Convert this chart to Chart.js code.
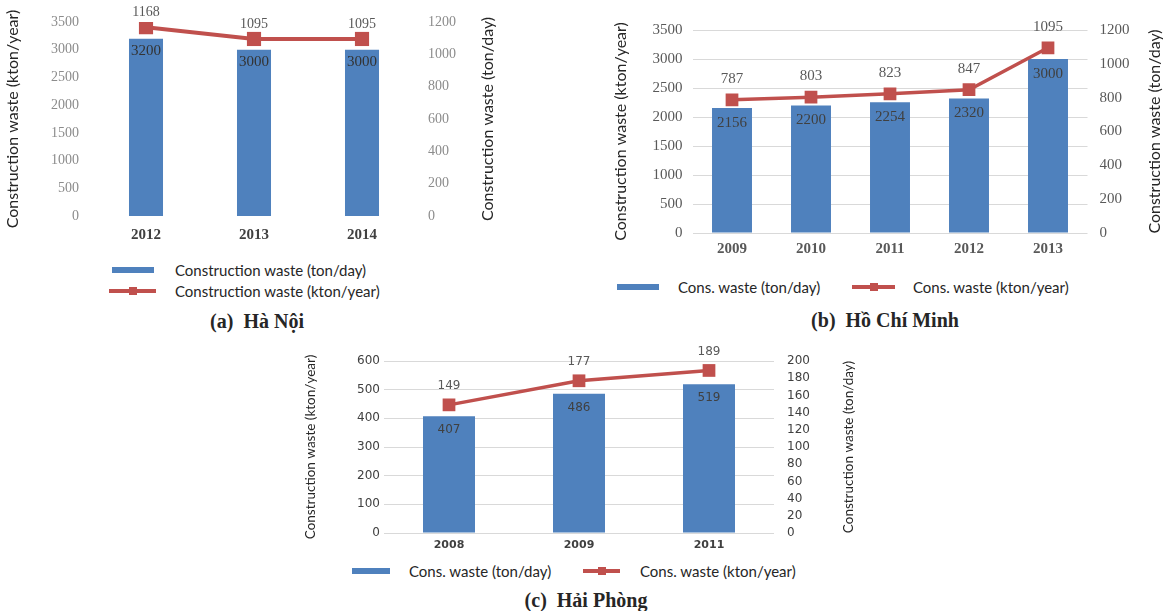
<!DOCTYPE html>
<html>
<head>
<meta charset="utf-8">
<script src="https://cdn.jsdelivr.net/npm/chart.js@4.4.1/dist/chart.umd.min.js"></script>
<style>
  body { margin: 0; background: #fff; }
  #page { position: relative; width: 1165px; height: 611px; overflow: hidden; font-family: Lato, sans-serif; }
  canvas { position: absolute; }
  .leg { position: absolute; font-size: 15px; color: #262626; white-space: nowrap; line-height: 1; transform: translateY(-50%); }
  .sw { position: absolute; }
  .cap { position: absolute; font-family: "Liberation Serif", serif; font-weight: bold; font-size: 20px; color: #262626;
         white-space: nowrap; transform: translate(-50%, -50%); }
</style>
</head>
<body>
<div id="page">
  <canvas id="cA"></canvas>
  <canvas id="cB"></canvas>
  <canvas id="cC"></canvas>
</div>
<script>
// (a) Hà Nội
const hnYears = ['2012', '2013', '2014'];
const hnTonDay = [3200, 3000, 3000];
const hnKtonYear = [1168, 1095, 1095];
const hnLegend = ['Construction waste (ton/day)', 'Construction waste (kton/year)'];

// (b) Hồ Chí Minh
const hcmYears = ['2009', '2010', '2011', '2012', '2013'];
const hcmTonDay = [2156, 2200, 2254, 2320, 3000];
const hcmKtonYear = [787, 803, 823, 847, 1095];

// (c) Hải Phòng
const hpYears = ['2008', '2009', '2011'];
const hpTonDay = [407, 486, 519];
const hpKtonYear = [149, 177, 189];

const shortLegend = ['Cons. waste (ton/day)', 'Cons. waste (kton/year)'];
const leftTitle = 'Construction waste (kton/year)';
const rightTitle = 'Construction waste (ton/day)';

const BLUE = '#4F81BD';
const RED = '#C0504D';

// value labels: inside the top of bars, above the line points
const valueLabels = {
  id: 'valueLabels',
  afterDatasetsDraw(chart, args, o) {
    const ctx = chart.ctx;
    chart.data.datasets.forEach((ds, i) => {
      const meta = chart.getDatasetMeta(i);
      const isLine = ds.type === 'line';
      meta.data.forEach((el, j) => {
        ctx.save();
        ctx.font = isLine ? o.lineFont : o.barFont;
        ctx.fillStyle = isLine ? o.lineColor : o.barColor;
        ctx.textAlign = 'center';
        ctx.textBaseline = 'middle';
        const y = isLine ? el.y - o.lineOff : el.y + o.barOff;
        ctx.fillText(ds.data[j], el.x, y);
        ctx.restore();
      });
    });
  }
};

// right axis title, reading bottom to top like the left one
const sideTitle = {
  id: 'sideTitle',
  afterDraw(chart, args, o) {
    const ctx = chart.ctx;
    const a = chart.chartArea;
    ctx.save();
    ctx.translate(chart.width - o.fromRight, (a.top + a.bottom) / 2);
    ctx.rotate(-Math.PI / 2);
    ctx.font = o.font;
    ctx.fillStyle = o.color;
    ctx.textAlign = 'center';
    ctx.textBaseline = 'middle';
    ctx.fillText(o.text, 0, 0);
    ctx.restore();
  }
};

function build(p) {
  const cv = document.getElementById(p.id);
  cv.width = p.width;
  cv.height = p.height;
  cv.style.left = p.left + 'px';
  cv.style.top = p.top + 'px';

  const chart = new Chart(cv, {
    type: 'bar',
    data: {
      labels: p.labels,
      datasets: [
        {
          type: 'bar', label: p.legend[0], data: p.bars, yAxisID: 'y',
          backgroundColor: BLUE, barPercentage: p.barPct, categoryPercentage: 1, order: 1
        },
        {
          type: 'line', label: p.legend[1], data: p.line, yAxisID: 'y1',
          borderColor: RED, backgroundColor: RED, borderWidth: p.lineW, tension: 0,
          pointStyle: 'rect', pointRadius: p.ptR, pointBorderWidth: 0,
          pointBackgroundColor: RED, order: 0
        }
      ]
    },
    options: {
      responsive: false,
      animation: false,
      devicePixelRatio: 1,
      layout: { padding: { top: p.padTop, left: 0, right: 0, bottom: 0 } },
      plugins: {
        legend: { display: false },
        tooltip: { enabled: false },
        valueLabels: p.values,
        sideTitle: { text: rightTitle, fromRight: p.rtFromRight, font: p.titleFont, color: '#262626' }
      },
      scales: {
        x: {
          grid: { display: false, drawTicks: false },
          border: { display: false },
          ticks: { padding: p.xPad, color: p.xColor, font: p.xFont },
          afterFit: s => { s.height = p.xH; }
        },
        y: {
          position: 'left', min: 0, max: p.lmax,
          ticks: { stepSize: p.lstep, padding: p.lPad, color: p.tickColor, font: p.tickFont,
                   autoSkip: false, callback: v => String(v) },
          grid: { display: p.grid, color: '#d9d9d9', drawTicks: false },
          border: { display: false },
          title: {
            display: true, text: leftTitle, color: '#262626',
            font: { family: 'Lato', size: p.titleSize }, padding: { top: p.ltPad, bottom: 0 }
          },
          afterFit: s => { s.width = p.lw; }
        },
        y1: {
          position: 'right', min: 0, max: p.rmax,
          ticks: { stepSize: p.rstep, padding: p.rPad, color: p.tickColor, font: p.tickFont,
                   autoSkip: false, callback: v => String(v) },
          grid: { display: false, drawTicks: false },
          border: { display: false },
          afterFit: s => { s.width = p.rw; }
        }
      }
    },
    plugins: [valueLabels, sideTitle]
  });

  // legend and caption as html, built from the dataset labels
  const page = document.getElementById('page');
  const ds = chart.data.datasets;
  const L = p.leg;
  const bar = document.createElement('div');
  bar.className = 'sw';
  Object.assign(bar.style, { left: L.barX + 'px', top: (L.barY - 3) + 'px', width: L.barW + 'px', height: '6px', background: BLUE });
  page.appendChild(bar);
  const t1 = document.createElement('div');
  t1.className = 'leg';
  t1.textContent = ds[0].label;
  Object.assign(t1.style, { left: L.t1X + 'px', top: L.barY + 'px' });
  page.appendChild(t1);

  const ln = document.createElement('div');
  ln.className = 'sw';
  Object.assign(ln.style, { left: L.lineX + 'px', top: (L.lineY - 2) + 'px', width: L.lineW + 'px', height: '4px', background: RED });
  page.appendChild(ln);
  const mk = document.createElement('div');
  mk.className = 'sw';
  Object.assign(mk.style, { left: (L.lineX + L.lineW / 2 - 4) + 'px', top: (L.lineY - 4) + 'px', width: '8px', height: '8px', background: RED });
  page.appendChild(mk);
  const t2 = document.createElement('div');
  t2.className = 'leg';
  t2.textContent = ds[1].label;
  Object.assign(t2.style, { left: L.t2X + 'px', top: L.lineY + 'px' });
  page.appendChild(t2);

  const cap = document.createElement('div');
  cap.className = 'cap';
  cap.innerHTML = p.caption;
  Object.assign(cap.style, { left: p.capX + 'px', top: p.capY + 'px' });
  page.appendChild(cap);
}

const serif = 'Liberation Serif';

build({
  id: 'cA', left: 0, top: 0, width: 505, height: 250,
  labels: hnYears, bars: hnTonDay, line: hnKtonYear, legend: hnLegend,
  padTop: 22, xH: 34, lw: 92, rw: 89, barPct: 0.315, lineW: 4, ptR: 10,
  lmax: 3500, lstep: 500, rmax: 1200, rstep: 200, grid: false,
  lPad: 13, rPad: 12, xPad: 10,
  tickColor: '#8c8c8c', tickFont: { family: serif, size: 14 },
  xColor: '#404040', xFont: { family: serif, size: 15, weight: 'bold' },
  titleSize: 16, titleFont: '16px Lato', ltPad: 3.5, rtFromRight: 17,
  values: { barFont: '15px "Liberation Serif"', barColor: '#333333', barOff: 12,
            lineFont: '14px "Liberation Serif"', lineColor: '#595959', lineOff: 15 },
  leg: { barX: 112, barY: 270, barW: 42, t1X: 175, lineX: 109, lineY: 291, lineW: 47, t2X: 175 },
  caption: '(a)&nbsp;&nbsp;Hà Nội', capX: 257, capY: 321
});

build({
  id: 'cB', left: 600, top: 0, width: 565, height: 263,
  labels: hcmYears, bars: hcmTonDay, line: hcmKtonYear, legend: shortLegend,
  padTop: 30, xH: 30, lw: 92.5, rw: 77.5, barPct: 0.506, lineW: 3.5, ptR: 9,
  lmax: 3500, lstep: 500, rmax: 1200, rstep: 200, grid: true,
  lPad: 10, rPad: 12, xPad: 7,
  tickColor: '#595959', tickFont: { family: serif, size: 15 },
  xColor: '#595959', xFont: { family: serif, size: 15, weight: 'bold' },
  titleSize: 16, titleFont: '16px Lato', ltPad: 11.5, rtFromRight: 10,
  values: { barFont: '15px "Liberation Serif"', barColor: '#404040', barOff: 15,
            lineFont: '15px "Liberation Serif"', lineColor: '#595959', lineOff: 21 },
  leg: { barX: 617, barY: 287, barW: 42, t1X: 678, lineX: 852, lineY: 287, lineW: 43, t2X: 913 },
  caption: '(b)&nbsp;&nbsp;Hồ Chí Minh', capX: 885, capY: 320
});

build({
  id: 'cC', left: 290, top: 340, width: 580, height: 217,
  labels: hpYears, bars: hpTonDay, line: hpKtonYear, legend: shortLegend,
  padTop: 21, xH: 24, lw: 94, rw: 96, barPct: 0.4, lineW: 3.5, ptR: 9,
  lmax: 600, lstep: 100, rmax: 200, rstep: 20, grid: true,
  lPad: 4, rPad: 13, xPad: 6,
  tickColor: '#404040', tickFont: { family: 'DejaVu Sans', size: 12 },
  xColor: '#404040', xFont: { family: 'DejaVu Sans', size: 11, weight: 'bold' },
  titleSize: 13.5, titleFont: '13.5px Lato', ltPad: 13, rtFromRight: 21,
  values: { barFont: '12px "DejaVu Sans"', barColor: '#404040', barOff: 14,
            lineFont: '12px "DejaVu Sans"', lineColor: '#595959', lineOff: 19 },
  leg: { barX: 352, barY: 571, barW: 38, t1X: 409, lineX: 583, lineY: 571, lineW: 37, t2X: 640 },
  caption: '(c)&nbsp;&nbsp;Hải Phòng', capX: 586, capY: 600
});
</script>
</body>
</html>
